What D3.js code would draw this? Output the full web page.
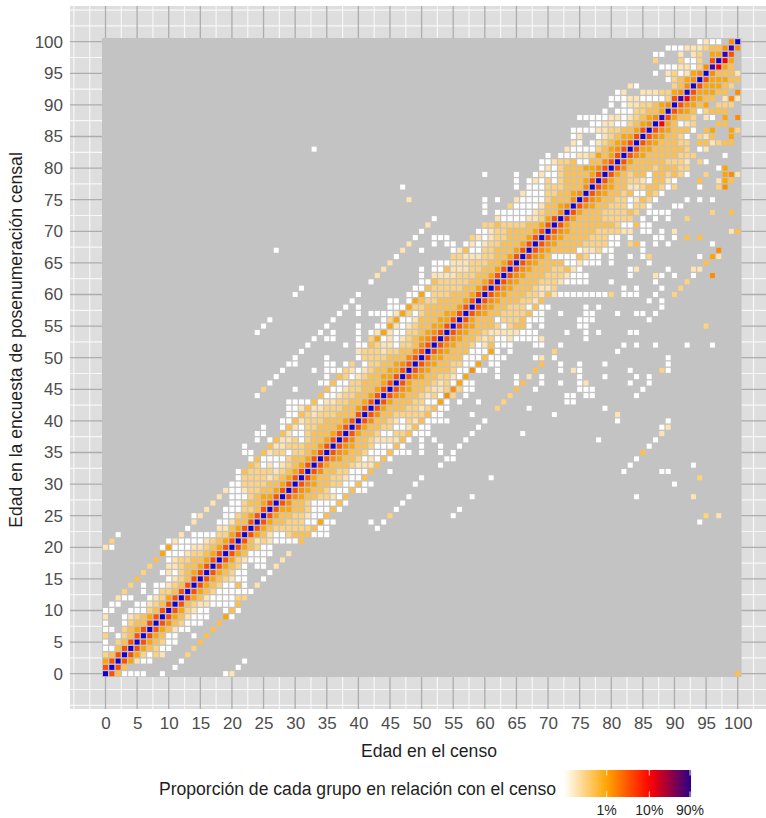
<!DOCTYPE html>
<html>
<head>
<meta charset="utf-8">
<script src="https://cdn.jsdelivr.net/npm/d3@7"></script>
<style>
  html, body { margin: 0; padding: 0; background: #fff; }
  svg { display: block; font-family: "Liberation Sans", Arial, sans-serif; }
</style>
</head>
<body>
<div id="chart"></div>
<script>
////  Data  ////

const ageTicks = d3.range(0, 101, 5);
const minorBreaks = d3.range(-5, 103, 5).map(d => d + 2.5).concat([-5]);
const xTitle = "Edad en el censo";
const yTitle = "Edad en la encuesta de posenumeración censal";
const legendTitle = "Proporción de cada grupo en relación con el censo";
const legendBreaks = [1, 10, 90];

// colour class -> share of the census group, in percent
const levelPercents = [0.1, 0.2, 0.32, 0.52, 1, 1.4, 3.3, 10, 70, 90];

// one string per survey age; "censusAge:levels", a dot is an empty cell
const rows0to24 = [
  "0:9630000..0 19:01 100:3",
  "0:6963 11:0 21:0",
  "0:46964100 12:0 22:0",
  "0:2369642021 13:2",
  "0:00369643200 14:2",
  "0:0.2369643200 15:3",
  "0:2.0236964300 14:0 16:3",
  "0:00.23469643100 17:3",
  "0:0..0233696532000 18:3",
  "0:1..01234696431000 19:40",
  "0:00..0002369642100 19:030",
  "1:00..00123696321100003",
  "2:100..0124696431000022",
  "3:2..0.0223696432000000",
  "4:2.0.001236964320030.1",
  "5:3 10:0123696432100..0",
  "6:2 9:01023469643200...0",
  "7:2 10:1123346964320.00.1",
  "8:3 10:0122334696421000..1",
  "9:400012234696430000..1",
  "0:10 9:040001123469643200",
  "1:2 10:0100001234696312100003",
  "2:0 12:1 14:0000224696431002333000",
  "13:0 18:113469643222222300 43:0",
  "14:1 18:0013369643322200400 42:0.0 94:0"
];

const rows25to49 = [
  "14:01 19:00234696433221003 45:2 55:0 95:2.1",
  "16:1 19:0002236964433200030 46:0 56:0",
  "17:1 20:0023346965332000030 47:0",
  "18:1 20:0002344696543322103 48:0 58:0 84:0 93:1",
  "19:10012233469654332000300",
  "20:00222233469654332200300 49:0 90:0",
  "21:022221234696433221003 50:0 61:0 94:2",
  "21:0322221234696533220003..0 82:0 88:00",
  "23:320101234696433321113 53:0 83:0 93:0",
  "23:03000023346965433201030 54:00 84:0",
  "22:00.312202234696543320003000 50:0 53:0 55:0 85:3",
  "22:0 26:3112223346965433200030 50:0 53:0 56:0 86:0",
  "24:0 26:03112023346965332111130 50:0 52:0 57:0 78:0 87:0",
  "24:00 28:310023334696433200223000 58:0 66:0 88:1",
  "25:0 28:031022333469643322001300 59:0 88:01",
  "28:003122233346965332102130000 60:0 81:0 89:0",
  "29:0032122233369653322222300 58:0 71:0 81:1",
  "29:00131122233469643332212300 62:2 67:0 79:0",
  "29:00003011223346964333220040.0 59:0 63:2 73:00",
  "24:0 34:3001223346965433212052.0 64:2 73:00 76:00 84:0",
  "25:2 30:0 35:300122334696543321125200 65:3 68:0 75:000 85:0",
  "26:0 34:0030022333469643332120400 65:03 69:0 72:0 75:01 83:0 86:0",
  "27:0 35:0.320123344696543322104 62:0 65:0 67:1 69:0 75:0 79:0 84:0 86:0",
  "28:0 33:0 35:00021012334469654333200500 62:0 68:3 72:0 74:10 83:0 88:20",
  "29:00 35:00.02.0223345696543322004.00 69:3 72:0 75:0 79:0 89:0"
];

const rows50to74 = [
  "30:0 35:0 40:022223335696443330003000 68:01.0 89:0",
  "31:0 40:12221223356965433300040.0 71:2 81:0",
  "32:0 38:0 40:0032110223569654332013000 68:00 72:0 82:0 84:0 87:0 92:0 96:0",
  "33:0 35:00 40:0 42:2401012345696543321200100001 76:0",
  "24:0 34:0 36:0 40:0 42:014100223456965433211111000 73:0 76:0 78:0 83:00",
  "25:0 35:0 40:0 43:0041012334469654333202330.0 75:00 95:2",
  "26:0 36:0 44:02400133344696433302223000 75:000 86:0",
  "37:0 40:0 42:0000142023334469654332222300 72:0 76:00 81:0 84:00 87:0",
  "38:0 40:0 45:00042233333469654332220300 76:0 78:0 88:0",
  "39:0 45:00 48:0432233334696543332213 86:0 88:0",
  "30:0 40:0 48:004022233346965433322131000000002 82:000 87:0 90:2",
  "31:0 49:00322222334696543332112 82:0.0 88:0 91:2",
  "42:0 50:003222223346965433322210000 80:0 87:0 92:2",
  "43:1 50:0 52:1111222334696543332221000 83:0 87:10.0 93:0 96:5",
  "44:1 50:0 52:003111223346965433322310 83:01 89:0 93:11",
  "45:1 52:000111222334696543333001000 80:0 86:0 95:3",
  "46:0 55:221112233469654300003200.0..0.02 94:0.41",
  "27:0 47:1 50:0 55:01300223334696543333011200 85:0 97:5",
  "48:1 52:0 54:00.0101223334696543333222200.230.0.0 96:0",
  "49:0 52:000...210122333469654333322200.0 87:00 90:0 92:3.3",
  "50:0 59:0012233334696543333222211.00 88:0 90:1 99:13",
  "51:1 60:223222233469643333333200300",
  "52:0 62:1000011246964333322222.0.0.0 92:2",
  "60:0 62:00000012335964333222232.0000 96:2 99:3",
  "60:0 64:20000133459654332220220 90:00"
];

const rows75to100 = [
  "48:1 60:0.0 65:10000233359654332201320 92:0.0.0",
  "66:10002233459654332300320",
  "47:0 65:0.000222333596543311233202 94:0 97:25",
  "65:0 67:010202333469643322103310 94:3 97:143",
  "60:0 65:0 68:0100233334696432330332320 95:2 98:451",
  "69:010233344569653333233322 97:04",
  "69:001223003356964333332221.20",
  "70:0.0001124346965433333222 98:0",
  "33:0 73:10000234569644333332.01",
  "74:10.0123456965433322.331233",
  "74:01..012344696543320.213..4",
  "74:00001122334696543330.34..42",
  "77:00110023459743012...33",
  "75:0000011012345864332.10.4.5",
  "79:0.000223349654302333",
  "80:0.01122345965434.222",
  "80:00011000026875433.151",
  "81:01..11122459644433.5",
  "83:10.....2359644432",
  "89:023459644433",
  "87:0.120145953331",
  "88:000110258743",
  "87:2...2002.6974",
  "87:00..1.12.4486",
  "89:000111233585",
  "94:0100.59"
];

////  Unpack the rows  ////

const cells = [];
rows0to24.concat(rows25to49, rows50to74, rows75to100).forEach((row, survey) => {
  row.split(" ").forEach(seg => {
    const [start, levels] = seg.split(":");
    levels.split("").forEach((c, i) => {
      if (c !== ".") {
        cells.push({ census: +start + i, survey, pct: levelPercents[+c] });
      }
    });
  });
});

////  Drawing  ////

const width = 766;
const height = 818;
const panel = { left: 70, right: 766, top: 6, bottom: 709 };

const x = d3.scaleLinear().domain([0, 100]).range([105.5, 737.7]);
const y = d3.scaleLinear().domain([0, 100]).range([673.7, 41.7]);

// cells and legend do not end on the same blue in the original
const cellColor = d3.scaleLinear()
  .domain([0.1, 1, 10, 70, 90].map(Math.log10))
  .range(["#ffffff", "#ffa500", "#ff0000", "#3a00b8", "#1400cc"]);
const legendColor = d3.scaleLinear()
  .domain([0.1, 1, 10, 90].map(Math.log10))
  .range(["#ffffff", "#ffa500", "#ff0000", "#2a0086"]);

const svg = d3.select("#chart").append("svg")
  .attr("width", width)
  .attr("height", height);

svg.append("rect")
  .attr("x", panel.left).attr("y", panel.top)
  .attr("width", panel.right - panel.left)
  .attr("height", panel.bottom - panel.top)
  .attr("fill", "#dedede");

// white grid
const whiteV = minorBreaks.filter(d => x(d) < panel.right);
const whiteH = minorBreaks.concat([105]).filter(d => y(d) > panel.top);
svg.append("g").selectAll("line").data(whiteV).join("line")
  .attr("x1", d => x(d)).attr("x2", d => x(d))
  .attr("y1", panel.top).attr("y2", panel.bottom)
  .attr("stroke", "#f7f7f7").attr("stroke-width", 1.2);
svg.append("g").selectAll("line").data(whiteH).join("line")
  .attr("x1", panel.left).attr("x2", panel.right)
  .attr("y1", d => y(d)).attr("y2", d => y(d))
  .attr("stroke", "#f7f7f7").attr("stroke-width", 1.2);

// grey grid on the labelled ages
svg.append("g").selectAll("line").data(ageTicks).join("line")
  .attr("x1", d => x(d)).attr("x2", d => x(d))
  .attr("y1", panel.top).attr("y2", panel.bottom)
  .attr("stroke", "#adadad").attr("stroke-width", 1.3);
svg.append("g").selectAll("line").data(ageTicks).join("line")
  .attr("x1", panel.left).attr("x2", panel.right)
  .attr("y1", d => y(d)).attr("y2", d => y(d))
  .attr("stroke", "#adadad").attr("stroke-width", 1.3);

// grey backdrop behind the cells
svg.append("rect")
  .attr("x", 102).attr("y", 38)
  .attr("width", 639.6).attr("height", 639)
  .attr("fill", "#c3c3c3");

const cellSize = 5;
svg.append("g").selectAll("rect").data(cells).join("rect")
  .attr("x", d => x(d.census) - cellSize / 2)
  .attr("y", d => y(d.survey) - cellSize / 2)
  .attr("width", cellSize)
  .attr("height", cellSize)
  .attr("fill", d => cellColor(Math.log10(d.pct)));

// axes
const xAxis = svg.append("g")
  .attr("transform", `translate(0,${panel.bottom})`)
  .call(d3.axisBottom(x).tickValues(ageTicks).tickSize(0).tickPadding(8));
const yAxis = svg.append("g")
  .attr("transform", `translate(${panel.left},0)`)
  .call(d3.axisLeft(y).tickValues(ageTicks).tickSize(0).tickPadding(7));
[xAxis, yAxis].forEach(a => {
  a.select(".domain").remove();
  a.selectAll("text")
    .attr("fill", "#4d4d4d")
    .style("font-size", "17px")
    .style("font-family", '"Liberation Sans", Arial, sans-serif');
});

svg.append("text")
  .attr("x", 429).attr("y", 757)
  .attr("text-anchor", "middle")
  .attr("fill", "#1f1f1f")
  .style("font-size", "17.6px")
  .text(xTitle);

svg.append("text")
  .attr("transform", "translate(22,340) rotate(-90)")
  .attr("text-anchor", "middle")
  .attr("fill", "#1f1f1f")
  .style("font-size", "17.6px")
  .text(yTitle);

// legend
const legendScale = d3.scaleLog().domain([0.1, 100]).range([564, 692]);
const legendEnd = 90;
const gradient = svg.append("defs").append("linearGradient")
  .attr("id", "legend-gradient");
d3.range(0, 1.001, 0.05).forEach(t => {
  const p = Math.pow(10, Math.log10(0.1) + t * (Math.log10(legendEnd) - Math.log10(0.1)));
  gradient.append("stop")
    .attr("offset", t)
    .attr("stop-color", legendColor(Math.log10(p)));
});

svg.append("rect")
  .attr("x", legendScale(0.1)).attr("y", 770)
  .attr("width", legendScale(legendEnd) - legendScale(0.1) + 1)
  .attr("height", 27)
  .attr("fill", "url(#legend-gradient)");

const ticks = svg.append("g").selectAll("g").data(legendBreaks).join("g");
ticks.append("line")
  .attr("x1", d => legendScale(d)).attr("x2", d => legendScale(d))
  .attr("y1", 770).attr("y2", 775.5)
  .attr("stroke", "#fff").attr("stroke-opacity", 0.8);
ticks.append("line")
  .attr("x1", d => legendScale(d)).attr("x2", d => legendScale(d))
  .attr("y1", 791.5).attr("y2", 797)
  .attr("stroke", "#fff").attr("stroke-opacity", 0.8);
ticks.append("text")
  .attr("x", d => legendScale(d)).attr("y", 815)
  .attr("text-anchor", "middle")
  .attr("fill", "#1f1f1f")
  .style("font-size", "14px")
  .text(d => d + "%");

svg.append("text")
  .attr("x", 556).attr("y", 795)
  .attr("text-anchor", "end")
  .attr("fill", "#1f1f1f")
  .style("font-size", "17.6px")
  .text(legendTitle);
</script>
</body>
</html>
